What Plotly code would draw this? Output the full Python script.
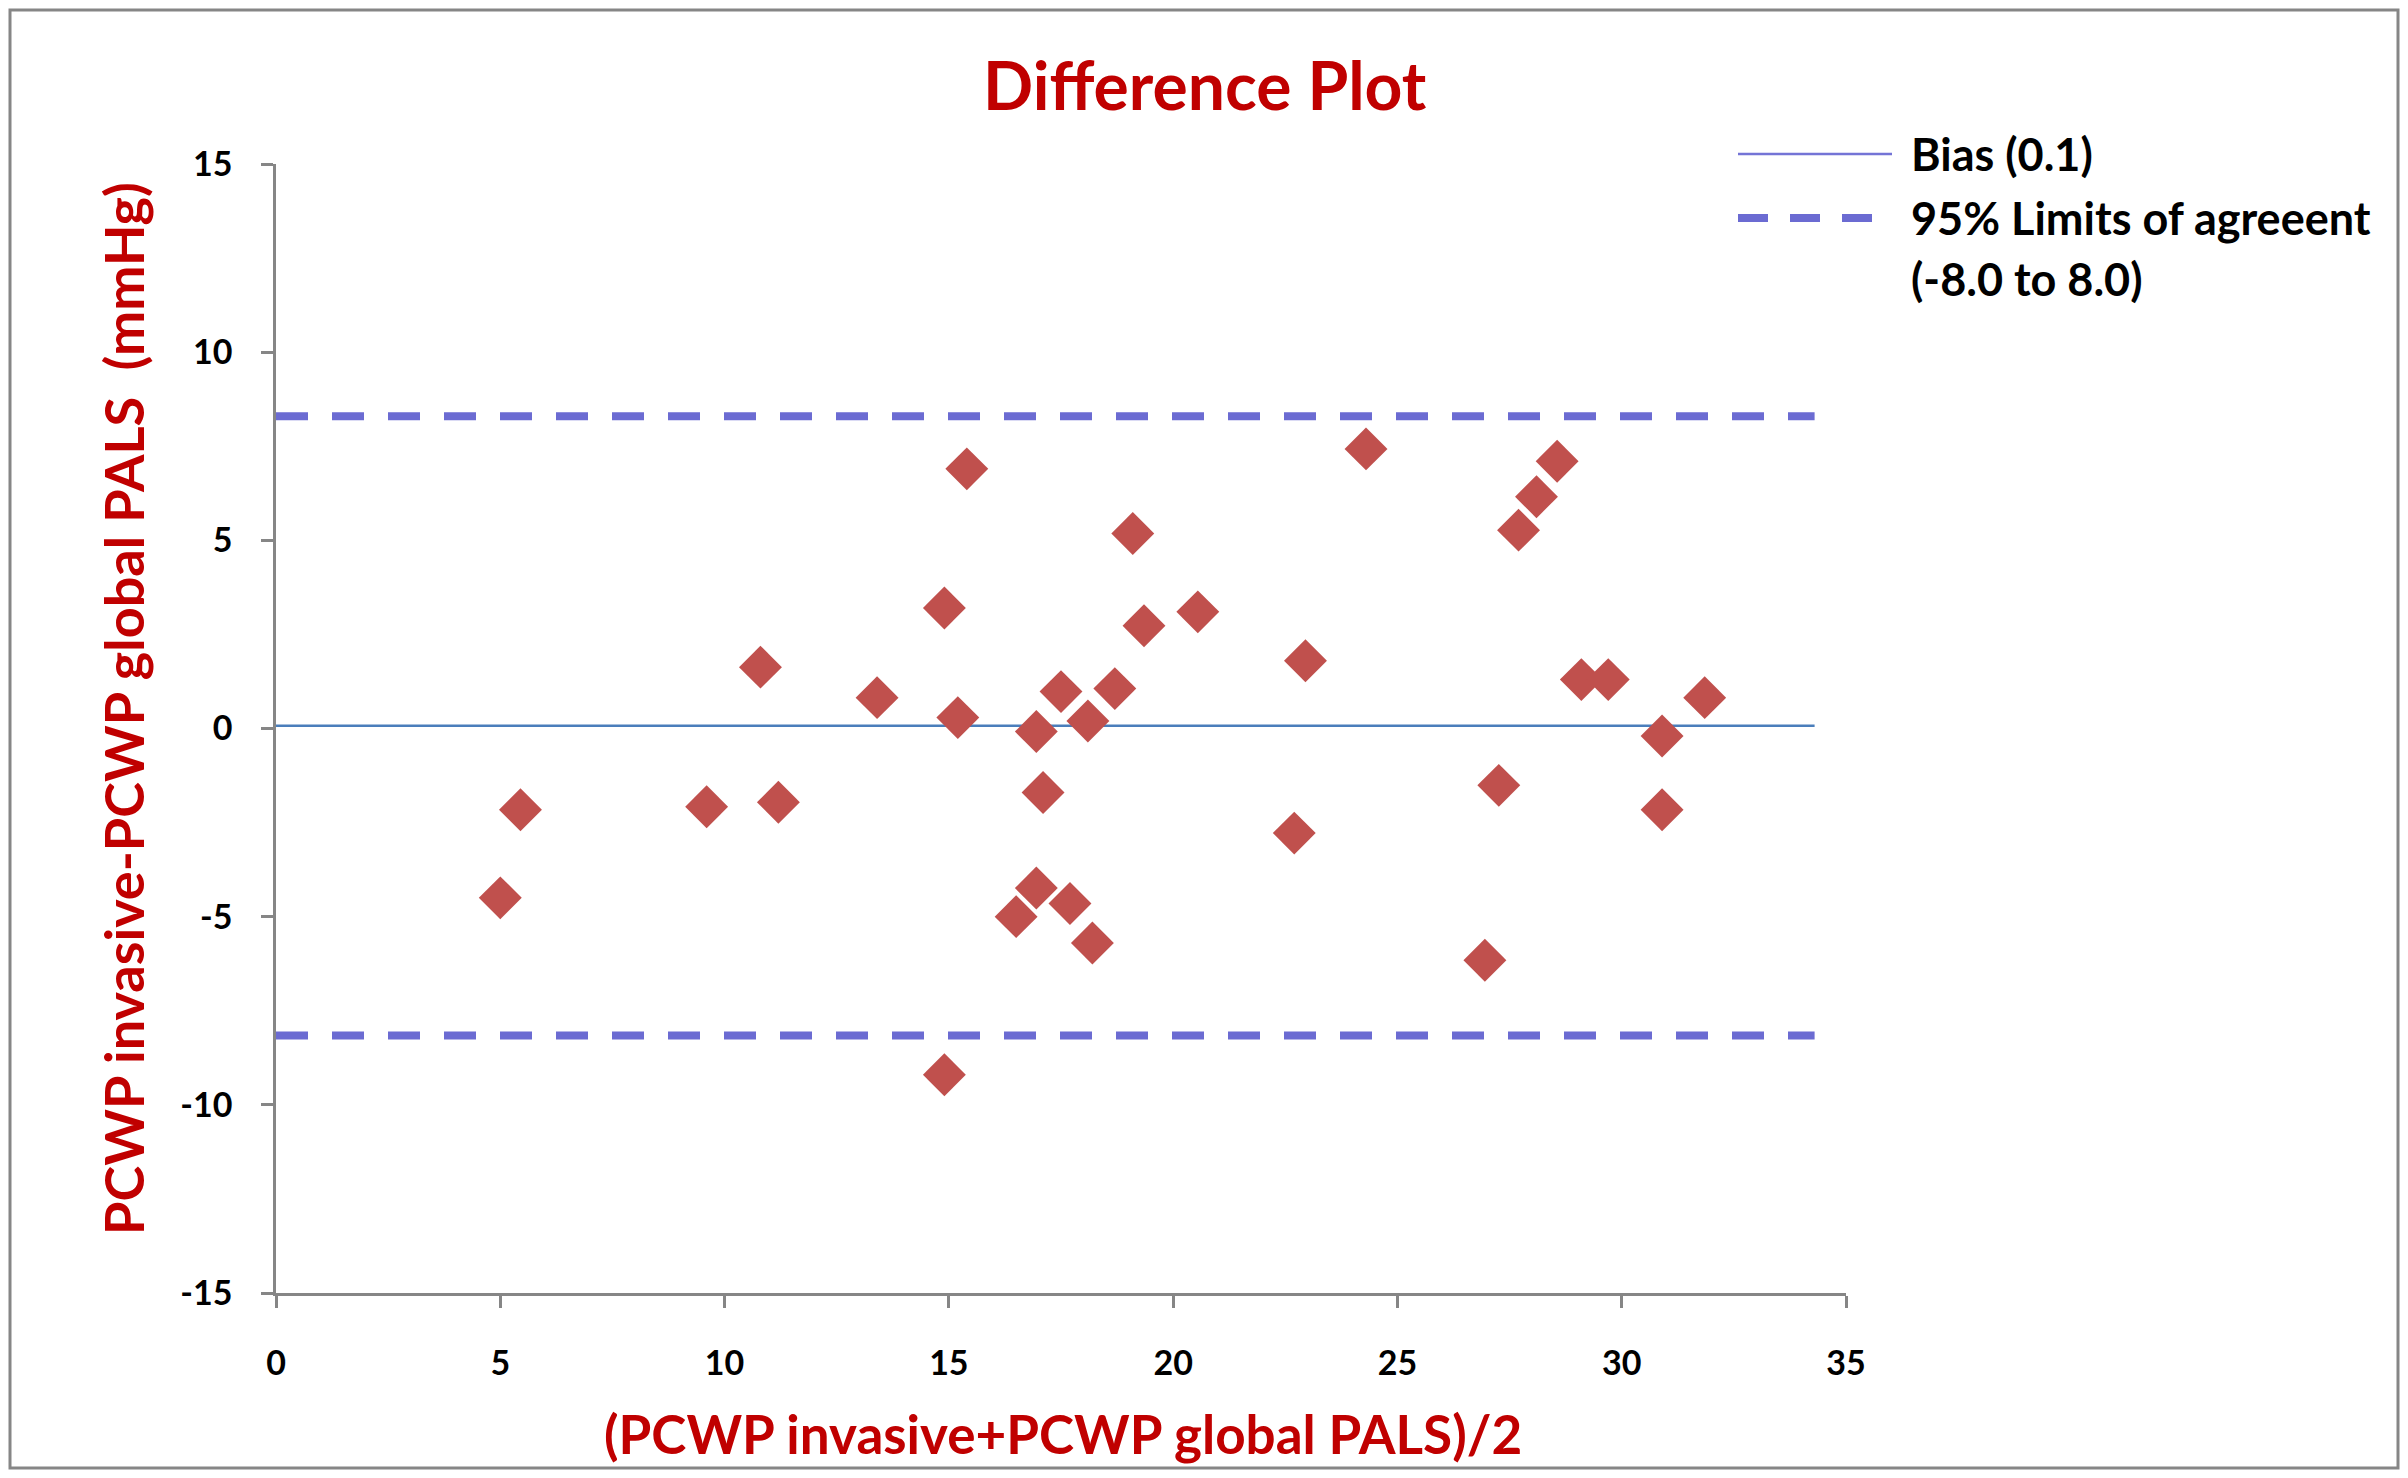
import plotly.graph_objects as go

# mean of the two methods (x) and their difference (y)
mean_vals = [5.0, 5.45, 9.6, 10.8, 11.2, 13.4, 14.9, 15.2, 14.9, 15.4,
             16.5, 16.95, 16.95, 17.1, 17.5, 17.7, 18.1, 18.2, 18.7, 19.1,
             19.35, 20.55, 22.7, 22.95, 24.3, 26.95, 27.26, 27.7, 28.1, 28.56,
             29.1, 29.7, 30.9, 30.9, 31.85]
diff_vals = [-4.5, -2.16, -2.08, 1.63, -1.96, 0.82, 3.2, 0.29, -9.2, 6.9,
             -5.0, -0.08, -4.24, -1.7, 0.98, -4.65, 0.2, -5.7, 1.06, 5.18,
             2.73, 3.1, -2.78, 1.8, 7.43, -6.16, -1.51, 5.27, 6.16, 7.1,
             1.3, 1.3, -0.2, -2.16, 0.82]

bias_value = 0.07
loa_upper = 8.3
loa_lower = -8.16
line_x = [0, 34.3]

x_ticks = [0, 5, 10, 15, 20, 25, 30, 35]
y_ticks = [15, 10, 5, 0, -5, -10, -15]
y_tick_text = ["15", "10", "5", "0", "-5", "-10", "-15"]

FONT = "Lato"
DARK_RED = "#C00000"
DASH_COL = "#6B6BD2"
BIAS_COL = "#4A7EBB"
GRAY = "#868686"

# the page body has an 8px margin, so the figure is 16px smaller
# and every reference pixel position is shifted back by 8
OFF = 8
W, H = 2408 - 2 * OFF, 1478 - 2 * OFF
L, T = 276 - OFF, 164 - OFF
R = W - (1846 - OFF)
B = H - (1293 - OFF)
pw, ph = W - L - R, H - T - B


def px(x):
    return (x - OFF - L) / pw


def py(y):
    return (H - B - (y - OFF)) / ph


fig = go.Figure()

fig.add_trace(go.Scatter(x=line_x, y=[loa_upper, loa_upper], mode="lines",
                         line=dict(color=DASH_COL, width=8, dash="32px,24px"),
                         hoverinfo="skip"))
fig.add_trace(go.Scatter(x=line_x, y=[loa_lower, loa_lower], mode="lines",
                         line=dict(color=DASH_COL, width=8, dash="32px,24px"),
                         hoverinfo="skip"))
fig.add_trace(go.Scatter(x=line_x, y=[bias_value, bias_value], mode="lines",
                         line=dict(color=BIAS_COL, width=2.5),
                         hoverinfo="skip"))
fig.add_trace(go.Scatter(x=mean_vals, y=diff_vals, mode="markers",
                         marker=dict(symbol="diamond", size=33, color="#C0504D",
                                     line=dict(width=0))))

shapes = [
    # outer chart border, kept just inside the figure edge
    dict(type="rect", xref="paper", yref="paper",
         x0=px(OFF + 2), x1=px(W + OFF - 2), y0=py(H + OFF - 2), y1=py(OFF + 2),
         line=dict(color=GRAY, width=3)),
    # legend samples
    dict(type="line", xref="paper", yref="paper",
         x0=px(1738), x1=px(1892), y0=py(154), y1=py(154),
         line=dict(color="#7474D6", width=2.5)),
    dict(type="line", xref="paper", yref="paper",
         x0=px(1738), x1=px(1886), y0=py(218), y1=py(218),
         line=dict(color=DASH_COL, width=8, dash="30px,22px")),
]

annotations = [
    dict(text="<b>Difference Plot</b>", x=px(1205), y=py(84), xref="paper", yref="paper",
         showarrow=False, xanchor="center", yanchor="middle",
         font=dict(family=FONT, size=66, color=DARK_RED)),
    dict(text="<b>PCWP invasive-PCWP global PALS  (mmHg)</b>", x=px(123), y=py(709),
         xref="paper", yref="paper", showarrow=False, textangle=-90,
         xanchor="center", yanchor="middle",
         font=dict(family=FONT, size=54, color=DARK_RED)),
    dict(text="<b>(PCWP invasive+PCWP global PALS)/2</b>", x=px(1063), y=py(1433),
         xref="paper", yref="paper", showarrow=False,
         xanchor="center", yanchor="middle",
         font=dict(family=FONT, size=53, color=DARK_RED)),
    dict(text="<b>Bias (0.1)</b>", x=px(1909), y=py(154), xref="paper", yref="paper",
         showarrow=False, xanchor="left", yanchor="middle",
         font=dict(family=FONT, size=45, color="black")),
    dict(text="<b>95% Limits of agreeent</b>", x=px(1909), y=py(218), xref="paper", yref="paper",
         showarrow=False, xanchor="left", yanchor="middle",
         font=dict(family=FONT, size=45, color="black")),
    dict(text="<b>(-8.0 to 8.0)</b>", x=px(1909), y=py(279), xref="paper", yref="paper",
         showarrow=False, xanchor="left", yanchor="middle",
         font=dict(family=FONT, size=45, color="black")),
]

fig.update_layout(
    width=W, height=H,
    margin=dict(l=L, r=R, t=T, b=B),
    paper_bgcolor="white", plot_bgcolor="white",
    showlegend=False,
    shapes=shapes,
    annotations=annotations,
    font=dict(family=FONT, color="black"),
    xaxis=dict(range=[0, 35], tickvals=x_ticks, showgrid=False, zeroline=False,
               showline=True, linecolor=GRAY, linewidth=2.5,
               ticks="outside", ticklen=12, tickwidth=2.5, tickcolor=GRAY,
               ticklabelstandoff=26,
               tickfont=dict(family=FONT, size=34, color="black", weight="bold")),
    yaxis=dict(range=[-15, 15], tickvals=y_ticks, ticktext=y_tick_text,
               showgrid=False, zeroline=False,
               showline=True, linecolor=GRAY, linewidth=2.5,
               ticks="outside", ticklen=12, tickwidth=2.5, tickcolor=GRAY,
               ticklabelstandoff=22,
               tickfont=dict(family=FONT, size=34, color="black", weight="bold")),
)

fig.write_html("out.html")
